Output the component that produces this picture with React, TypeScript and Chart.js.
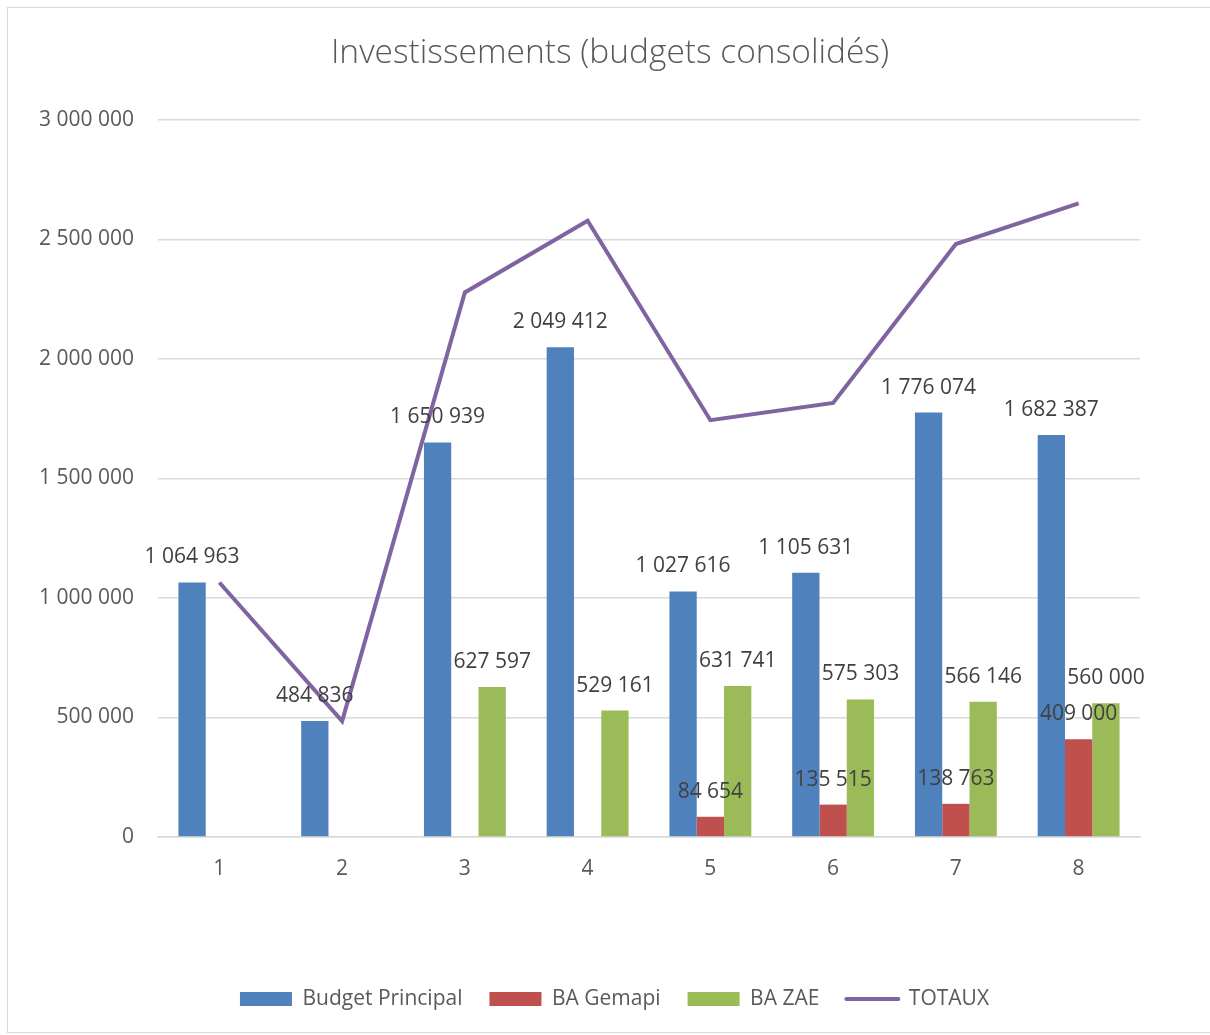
import React, { useEffect, useRef } from "react";
import { Chart, registerables } from "chart.js";

Chart.register(...registerables);

const categories = ["1", "2", "3", "4", "5", "6", "7", "8"];
const budgetPrincipal = [1064963, 484836, 1650939, 2049412, 1027616, 1105631, 1776074, 1682387];
const baGemapi = [null, null, null, null, 84654, 135515, 138763, 409000];
const baZae = [null, null, 627597, 529161, 631741, 575303, 566146, 560000];
const totaux = [1064963, 484836, 2278536, 2578573, 1744011, 1816449, 2480983, 2651387];

const COLORS = {
  blue: "#4F81BD",
  red: "#C0504D",
  green: "#9BBB59",
  purple: "#8064A2",
};

const FONT = '"Open Sans", "Noto Sans", sans-serif';
const LABEL_SIZE = 21;

const fmt = (v: number) => String(Math.round(v)).replace(/\B(?=(\d{3})+(?!\d))/g, " ");

const barLabels = {
  id: "barLabels",
  afterDatasetsDraw(chart: any) {
    const ctx = chart.ctx;
    ctx.save();
    ctx.font = `${LABEL_SIZE}px ${FONT}`;
    ctx.fillStyle = "#404040";
    ctx.textAlign = "center";
    ctx.textBaseline = "middle";
    chart.data.datasets.forEach((ds: any, i: number) => {
      if (ds.type === "line") return;
      const meta = chart.getDatasetMeta(i);
      meta.data.forEach((el: any, j: number) => {
        const v = ds.data[j];
        if (v == null) return;
        ctx.fillText(fmt(v), el.x, el.y - 25);
      });
    });
    ctx.restore();
  },
};

// Shift the full-width title and legend boxes so they are centred like the reference
const recenter = {
  id: "recenter",
  beforeDraw(chart: any) {
    if (chart.titleBlock) {
      chart.titleBlock.left = 72;
      chart.titleBlock.right = 1132;
    }
    if (chart.legend) {
      chart.legend.left = 81;
      chart.legend.right = 1132;
    }
  },
};

export default function App() {
  const ref = useRef<HTMLCanvasElement | null>(null);

  useEffect(() => {
    if (!ref.current) return;
    Chart.defaults.font.family = FONT;
    const chart = new Chart(ref.current, {
      type: "bar",
      data: {
        labels: categories,
        datasets: [
          {
            type: "bar",
            label: "Budget Principal",
            data: budgetPrincipal,
            backgroundColor: COLORS.blue,
            order: 1,
          },
          {
            type: "bar",
            label: "BA Gemapi",
            data: baGemapi,
            backgroundColor: COLORS.red,
            order: 1,
          },
          {
            type: "bar",
            label: "BA ZAE",
            data: baZae,
            backgroundColor: COLORS.green,
            order: 1,
          },
          {
            type: "line",
            label: "TOTAUX",
            data: totaux,
            borderColor: COLORS.purple,
            backgroundColor: COLORS.purple,
            borderWidth: 4,
            pointRadius: 0,
            tension: 0,
            order: 0,
          },
        ] as any,
      },
      options: {
        animation: false,
        responsive: false,
        maintainAspectRatio: false,
        datasets: {
          bar: { categoryPercentage: 0.667, barPercentage: 1 },
        } as any,
        layout: { padding: { left: 0, right: 70, top: 0, bottom: 12.5 } },
        plugins: {
          tooltip: { enabled: false },
          title: {
            display: true,
            text: "Investissements (budgets consolidés)",
            color: "#595959",
            font: { size: 33.5, weight: "300" as any, family: FONT },
            padding: { top: 25, bottom: 46.8 },
          },
          legend: {
            position: "bottom",
            labels: {
              usePointStyle: true,
              pointStyleWidth: 52,
              boxHeight: 14,
              padding: 27,
              color: "#595959",
              font: { size: 21, family: FONT },
              generateLabels: () => [
                { text: "Budget Principal", fillStyle: COLORS.blue, strokeStyle: COLORS.blue, lineWidth: 0, pointStyle: "rect", datasetIndex: 0, fontColor: "#595959" },
                { text: "BA Gemapi", fillStyle: COLORS.red, strokeStyle: COLORS.red, lineWidth: 0, pointStyle: "rect", datasetIndex: 1, fontColor: "#595959" },
                { text: "BA ZAE", fillStyle: COLORS.green, strokeStyle: COLORS.green, lineWidth: 0, pointStyle: "rect", datasetIndex: 2, fontColor: "#595959" },
                { text: "TOTAUX", fillStyle: COLORS.purple, strokeStyle: COLORS.purple, lineWidth: 4, pointStyle: "line", datasetIndex: 3, fontColor: "#595959", lineCap: "round" },
              ] as any,
            },
          },
        },
        scales: {
          x: {
            type: "category",
            grid: { display: false, drawTicks: false },
            border: { display: true, color: "#d9d9d9", width: 1.5 },
            ticks: { color: "#595959", font: { size: LABEL_SIZE }, padding: 19 },
            afterFit: (axis: any) => {
              axis.height = 124.5;
            },
          },
          y: {
            min: 0,
            max: 3000000,
            grid: { color: "#d9d9d9", lineWidth: 1.5, drawTicks: false },
            border: { display: false },
            ticks: {
              stepSize: 500000,
              color: "#595959",
              font: { size: LABEL_SIZE },
              padding: 24,
              callback: (v: any) => fmt(Number(v)),
            },
            afterFit: (axis: any) => {
              axis.width = 150;
            },
          },
        },
      },
      plugins: [barLabels, recenter],
    });
    return () => chart.destroy();
  }, []);

  return (
    <div
      style={{
        position: "fixed",
        left: 7,
        top: 7,
        width: 1203,
        height: 1026,
        boxSizing: "border-box",
        borderTop: "1px solid #d9d9d9",
        borderLeft: "1px solid #d9d9d9",
        borderBottom: "1px solid #d9d9d9",
        background: "#ffffff",
      }}
    >
      <canvas ref={ref} width={1202} height={1024} style={{ display: "block", width: 1202, height: 1024 }} />
    </div>
  );
}
